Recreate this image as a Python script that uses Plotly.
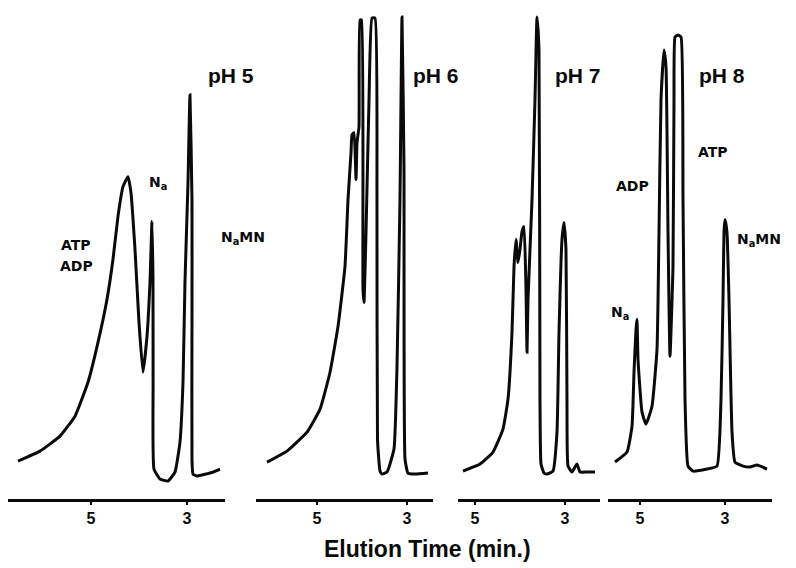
import plotly.graph_objects as go

# Chromatograms recorded at four pH values: elution time (min) vs detector signal (a.u.)
ph_labels = ["pH 5", "pH 6", "pH 7", "pH 8"]

t_ph5 = [6.521, 6.063, 5.646, 5.333, 5.063, 4.854, 4.667, 4.542, 4.438, 4.333, 4.229,
         4.167, 4.083, 4.000, 3.917, 3.833, 3.771, 3.729, 3.708, 3.706, 3.688, 3.563,
         3.396, 3.250, 3.146, 3.083, 3.042, 2.979, 2.938, 2.896, 2.896, 2.896, 2.875,
         2.792, 2.458, 2.313]
y_ph5 = [7.6, 9.6, 12.6, 16.6, 23.4, 31.4, 40.0, 48.0, 56.6, 62.6, 64.6,
         61.4, 50.0, 35.4, 25.4, 32.6, 43.4, 55.6, 43.4, 23.4, 6.0, 4.0,
         3.6, 5.4, 11.4, 23.4, 43.4, 63.4, 81.0, 60.0, 36.0, 8.0, 5.0,
         4.6, 5.4, 6.0]

t_ph6 = [6.111, 5.667, 5.222, 4.933, 4.711, 4.533, 4.378, 4.311, 4.244, 4.222, 4.178,
         4.133, 4.111, 4.067, 4.044, 4.011, 3.978, 3.956, 3.911, 3.844, 3.778, 3.711,
         3.667, 3.656, 3.600, 3.556, 3.444, 3.289, 3.222, 3.156, 3.111, 3.067, 3.044,
         2.978, 2.822, 2.533]
y_ph6 = [7.4, 9.6, 13.4, 18.0, 25.4, 34.6, 46.6, 60.0, 69.4, 73.0, 73.4,
         64.0, 71.4, 74.6, 96.0, 96.0, 42.0, 39.4, 53.4, 80.0, 96.4, 96.4,
         60.0, 12.0, 5.6, 5.0, 5.4, 10.0, 26.6, 60.0, 96.6, 66.6, 8.0,
         5.2, 5.0, 5.2]

t_ph7 = [5.267, 4.889, 4.600, 4.378, 4.267, 4.178, 4.133, 4.089, 4.044, 4.000, 3.956,
         3.911, 3.867, 3.844, 3.822, 3.733, 3.667, 3.622, 3.578, 3.556, 3.533, 3.467,
         3.400, 3.267, 3.178, 3.133, 3.067, 3.022, 2.978, 2.956, 2.933, 2.844, 2.778,
         2.733, 2.667, 2.511, 2.333]
y_ph7 = [5.6, 7.0, 9.4, 14.0, 20.0, 33.4, 46.6, 52.0, 47.4, 50.0, 53.6,
         54.6, 42.0, 29.4, 40.0, 60.0, 80.0, 96.6, 90.0, 20.0, 7.0, 5.2,
         5.0, 5.6, 13.4, 33.4, 52.0, 55.4, 50.0, 20.0, 6.6, 5.4, 6.4,
         7.0, 5.4, 5.4, 5.4]

t_ph8 = [5.588, 5.306, 5.188, 5.141, 5.094, 5.071, 5.047, 4.953, 4.859, 4.718, 4.600,
         4.553, 4.506, 4.435, 4.388, 4.341, 4.294, 4.224, 4.200, 4.176, 4.106, 4.035,
         3.988, 3.941, 3.871, 3.753, 3.424, 3.188, 3.094, 3.047, 3.024, 3.000, 2.953,
         2.906, 2.835, 2.765, 2.576, 2.412, 2.247, 2.012]
y_ph8 = [7.4, 9.4, 14.6, 25.4, 34.0, 36.0, 28.0, 17.4, 15.0, 18.6, 30.0,
         53.4, 80.0, 90.0, 86.6, 53.4, 28.6, 46.6, 80.0, 92.6, 93.0, 92.6,
         60.0, 20.0, 6.6, 5.6, 6.0, 6.6, 20.0, 40.0, 53.4, 56.0, 53.4,
         40.0, 13.4, 7.4, 6.6, 6.4, 6.8, 6.0]

tick_vals = [5, 3]
tick_text = ["5", "3"]

series = [(t_ph5, y_ph5), (t_ph6, y_ph6), (t_ph7, y_ph7), (t_ph8, y_ph8)]

W, H = 796, 568
# panel layout: x-domain (px) and time range for each reversed axis
panel_px = [(8, 225), (256, 433), (458, 600), (608, 772)]
panel_rng = [(6.729, 2.208), (6.356, 2.422), (5.378, 2.222), (5.753, 1.894)]
axis_y_px = 499

fig = go.Figure()
ink = "#0a0a0a"
for i, (t, y) in enumerate(series):
    n = "" if i == 0 else str(i + 1)
    fig.add_trace(go.Scatter(x=t, y=y, mode="lines", xaxis="x" + n, yaxis="y" + n,
                             line=dict(color=ink, width=3, shape="spline", smoothing=0.4),
                             hoverinfo="skip", showlegend=False))
    x0, x1 = panel_px[i]
    fig.update_layout(**{
        "xaxis" + n: dict(domain=[x0 / W, x1 / W], range=list(panel_rng[i]),
                          anchor="y" + n, showgrid=False, zeroline=False,
                          showline=True, linecolor=ink, linewidth=2.5,
                          ticks="outside", ticklen=3, tickwidth=2, tickcolor=ink,
                          tickvals=tick_vals, ticktext=tick_text,
                          tickfont=dict(family="Liberation Sans", size=16, color=ink, weight="bold")),
        "yaxis" + n: dict(domain=[1 - axis_y_px / H, 1], range=[0, 100], anchor="x" + n,
                          visible=False, fixedrange=True),
    })

lab_font = dict(family="DejaVu Sans", size=14, color=ink, weight="bold")
ph_font = dict(family="Liberation Sans", size=21, color=ink, weight="bold")
ph_pos = [(231, 75), (436, 75), (578, 75), (722, 75)]
annots = []
for lab, (px, py) in zip(ph_labels, ph_pos):
    annots.append(dict(text=lab, x=px / W, y=1 - py / H, font=ph_font))

peak_labels = [
    ("ATP", 76, 245), ("ADP", 76, 266), ("N<sub>a</sub>", 158, 183), ("N<sub>a</sub>MN", 243, 238),
    ("ADP", 632, 186), ("ATP", 713, 152), ("N<sub>a</sub>", 620, 313), ("N<sub>a</sub>MN", 759, 240),
]
for txt, px, py in peak_labels:
    annots.append(dict(text=txt, x=px / W, y=1 - py / H, font=lab_font))

annots.append(dict(text="Elution Time (min.)", x=427 / W, y=1 - 549 / H,
                   font=dict(family="Liberation Sans", size=23, color=ink, weight="bold")))

for a in annots:
    a.update(xref="paper", yref="paper", showarrow=False, xanchor="center", yanchor="middle")

fig.update_layout(width=W, height=H, margin=dict(l=0, r=0, t=0, b=0),
                  paper_bgcolor="white", plot_bgcolor="white", annotations=annots)

fig.write_html("out.html")
